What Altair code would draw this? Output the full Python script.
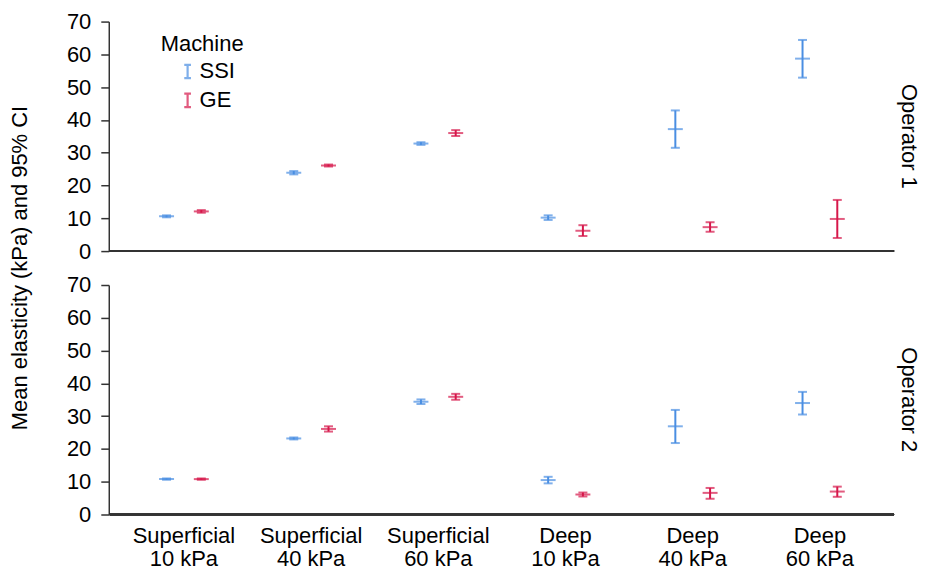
import altair as alt
import pandas as pd

categories = ["Superficial|10 kPa", "Superficial|40 kPa", "Superficial|60 kPa",
              "Deep|10 kPa", "Deep|40 kPa", "Deep|60 kPa"]
machines = ["SSI", "GE"]
operators = ["Operator 1", "Operator 2"]
y_ticks = [0, 10, 20, 30, 40, 50, 60, 70]

# Operator 1
op1_ssi_mean = [10.6, 23.9, 32.8, 10.2, 37.2, 58.7]
op1_ssi_lo = [10.3, 23.4, 32.4, 9.5, 31.5, 52.9]
op1_ssi_hi = [10.9, 24.4, 33.2, 10.9, 42.9, 64.4]
op1_ge_mean = [12.1, 26.1, 36.0, 6.2, 7.3, 9.8]
op1_ge_lo = [11.7, 25.8, 35.1, 4.6, 5.9, 4.0]
op1_ge_hi = [12.5, 26.4, 36.9, 7.9, 8.8, 15.6]

# Operator 2
op2_ssi_mean = [10.8, 23.2, 34.4, 10.5, 26.9, 34.0]
op2_ssi_lo = [10.6, 22.9, 33.7, 9.5, 21.8, 30.5]
op2_ssi_hi = [11.0, 23.5, 35.1, 11.5, 31.9, 37.4]
op2_ge_mean = [10.8, 26.1, 35.9, 6.1, 6.6, 7.0]
op2_ge_lo = [10.6, 25.3, 35.0, 5.5, 4.8, 5.4]
op2_ge_hi = [11.0, 26.9, 36.8, 6.7, 8.1, 8.5]

colors = ["#4A8EE2", "#D6174A"]

rows = []
series = {
    ("Operator 1", "SSI"): (op1_ssi_mean, op1_ssi_lo, op1_ssi_hi),
    ("Operator 1", "GE"): (op1_ge_mean, op1_ge_lo, op1_ge_hi),
    ("Operator 2", "SSI"): (op2_ssi_mean, op2_ssi_lo, op2_ssi_hi),
    ("Operator 2", "GE"): (op2_ge_mean, op2_ge_lo, op2_ge_hi),
}
for (op, m), (mean, lo, hi) in series.items():
    for c, mv, l, h in zip(categories, mean, lo, hi):
        rows.append({"Operator": op, "Machine": m, "Category": c,
                     "mean": mv, "lo": l, "hi": h})
df = pd.DataFrame(rows)

FONT = "Liberation Sans"
FS = 22

x_enc = alt.X("Category:N", sort=categories,
              scale=alt.Scale(paddingInner=0, paddingOuter=0.083),
              axis=alt.Axis(title=None, labelAngle=0, ticks=False, domain=False,
                            labelExpr="split(datum.label, '|')",
                            labelFontSize=FS, labelFont=FONT, labelColor="black",
                            labelPadding=10, labelLineHeight=23))
xo_enc = alt.XOffset("Machine:N", sort=machines,
                     scale=alt.Scale(paddingInner=0, paddingOuter=0.83))
color_enc = alt.Color("Machine:N", sort=machines,
                      scale=alt.Scale(domain=machines, range=colors),
                      legend=alt.Legend(
                          title="Machine", orient="none", legendX=51, legendY=12,
                          titleFontSize=FS, titleFont=FONT, titleColor="black",
                          titleFontWeight="normal", titlePadding=5,
                          labelFontSize=FS, labelFont=FONT, labelColor="black",
                          symbolType="M-0.5,-1H0.5M0,-1V1M-0.5,1H0.5",
                          symbolSize=180, symbolStrokeWidth=2.2, symbolFillColor="transparent",
                          rowPadding=5, padding=0, offset=0,
                          labelOffset=1, symbolOffset=16))

y_scale = alt.Scale(domain=[0, 70], nice=False, zero=True)
y_axis = alt.Axis(title=None, values=y_ticks, grid=False, tickSize=8,
                  tickColor="#333", domainColor="#333", tickWidth=1.5,
                  labelFontSize=FS, labelFont=FONT, labelColor="black",
                  labelPadding=10, labelOverlap=False)

base = alt.Chart().encode(x=x_enc, xOffset=xo_enc, color=color_enc)

rule = base.mark_rule(strokeWidth=2).encode(
    y=alt.Y("lo:Q", scale=y_scale, axis=y_axis), y2="hi:Q")
cap_lo = base.mark_tick(size=9, thickness=2).encode(y=alt.Y("lo:Q", scale=y_scale, axis=y_axis))
cap_hi = base.mark_tick(size=9, thickness=2).encode(y=alt.Y("hi:Q", scale=y_scale, axis=y_axis))
mean_t = base.mark_tick(size=15, thickness=2).encode(y=alt.Y("mean:Q", scale=y_scale, axis=y_axis))
baseline = alt.Chart().mark_rule(color="#333", strokeWidth=1.5).encode(
    y=alt.YDatum(0, type="quantitative", scale=y_scale, axis=y_axis))

layer = alt.layer(rule, cap_lo, cap_hi, mean_t, baseline).properties(width=786, height=230)

chart = layer.facet(
    data=df,
    row=alt.Row("Operator:N", sort=operators,
                header=alt.Header(title="Mean elasticity (kPa) and 95% CI",
                                  titleOrient="left", titleAngle=270,
                                  titleFontSize=FS, titleFont=FONT, titleColor="black",
                                  titleFontWeight="normal", titlePadding=2,
                                  labelOrient="right", labelAngle=90,
                                  labelFontSize=FS, labelFont=FONT, labelColor="black",
                                  labelPadding=2))
).properties(spacing=33, padding={"left": 0, "top": 2, "right": 4, "bottom": 0}
).configure_view(stroke=None).configure_axis(domainWidth=1.5)

chart.save("out.html", embed_options={"renderer": "svg", "actions": False})
